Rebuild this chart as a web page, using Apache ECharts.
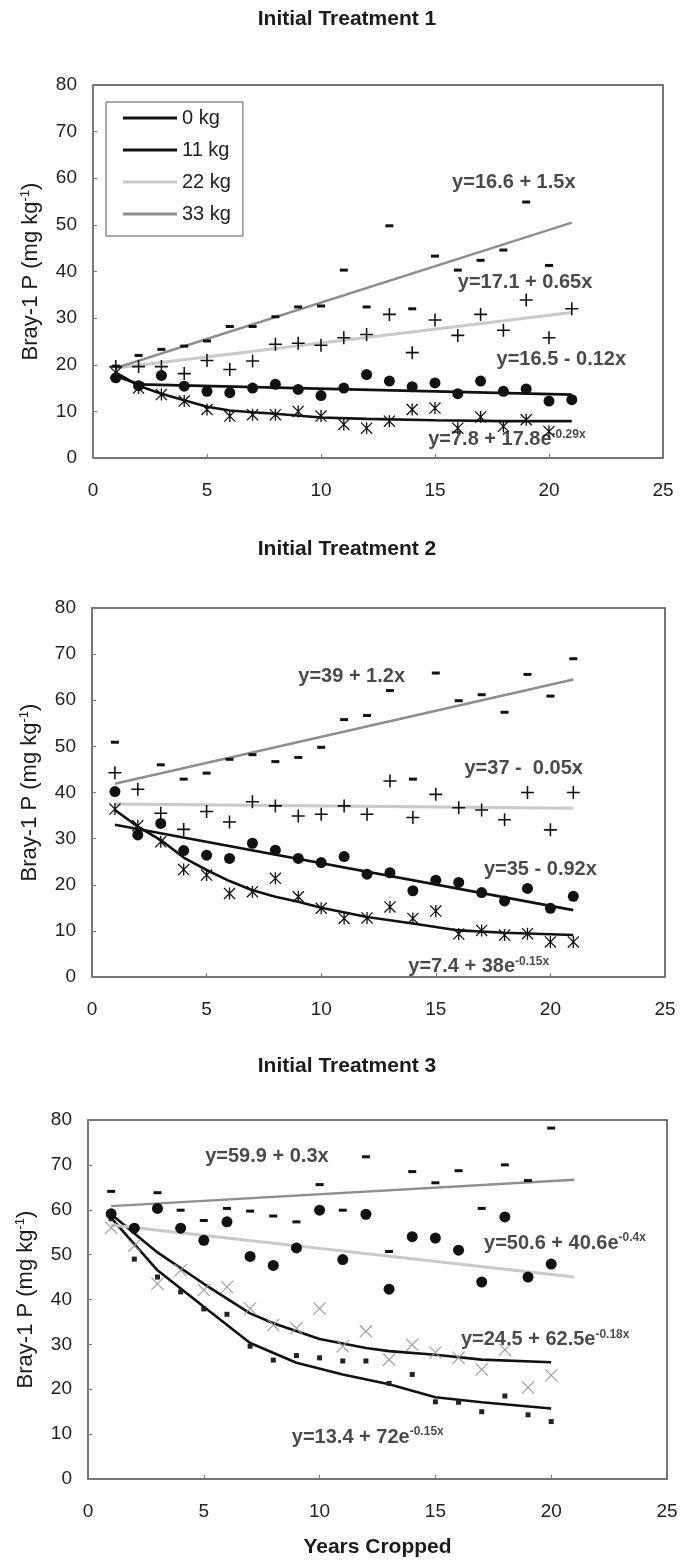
<!DOCTYPE html>
<html>
<head>
<meta charset="utf-8">
<script src="https://cdn.jsdelivr.net/npm/echarts@6/dist/echarts.min.js"></script>
<style>
  html, body { margin: 0; padding: 0; background: #fff; }
  #main { width: 683px; height: 1564px; }
</style>
</head>
<body>
<div id="main"></div>
<script>
// ---- data ----
var years = [1,2,3,4,5,6,7,8,9,10,11,12,13,14,15,16,17,18,19,20,21];
var years3 = [1,2,3,4,5,6,7,8,9,10,11,12,13,14,15,16,17,18,19,20];
var xTicks = [0, 25, 5];   // min, max, step
var yTicks = [0, 80, 10];

// Initial Treatment 1 : observations
var t1_0kg  = [18.3,15.0,13.6,12.2,10.4,9.0,9.3,9.3,10.0,9.0,7.2,6.4,7.9,10.4,10.7,6.4,8.8,6.8,8.2,5.7,null];
var t1_11kg = [17.2,15.5,17.7,15.4,14.3,14.0,15.0,15.8,14.7,13.4,15.0,17.9,16.5,15.3,16.1,13.8,16.5,14.3,14.8,12.2,12.5];
var t1_22kg = [19.6,19.6,19.6,18.1,20.9,19.0,20.8,24.4,24.6,24.2,25.8,26.5,30.8,22.6,29.6,26.3,30.8,27.4,33.9,25.8,32.0];
var t1_33kg = [19.7,22.0,23.3,24.0,25.1,28.2,28.2,30.3,32.4,32.6,40.3,32.4,49.8,32.0,43.3,40.3,42.4,44.6,54.9,41.3,null];
// Initial Treatment 1 : fitted lines
var t1_fit0_x  = [1,2,3,4,5,6,7,8,10,12,15,18,21];
var t1_fit0_y  = [18.3,15.5,13.8,12.4,11.0,10.2,9.8,9.5,8.7,8.4,8.1,7.9,7.9];
var t1_fit11_x = [1,2,21];
var t1_fit11_y = [17.6,15.8,13.6];
var t1_fit22_x = [1,21];
var t1_fit22_y = [19.3,31.2];
var t1_fit33_x = [1,21];
var t1_fit33_y = [19.3,50.5];

// Initial Treatment 2 : observations
var t2_0kg  = [36.4,32.8,29.3,23.3,22.1,18.1,18.5,21.4,17.4,14.9,12.7,12.8,15.2,12.7,14.3,9.3,10.1,9.1,9.4,7.6,7.6];
var t2_11kg = [40.2,30.8,33.3,27.4,26.4,25.7,29.0,27.5,25.7,24.8,26.1,22.3,22.6,18.7,21.0,20.5,18.3,16.5,19.2,14.9,17.5];
var t2_22kg = [44.3,40.7,35.5,32.0,35.9,33.6,38.0,37.1,34.9,35.3,37.1,35.3,42.5,34.6,39.6,36.7,36.2,34.1,40.0,31.9,40.0];
var t2_33kg = [50.9,null,46.0,42.9,44.2,47.2,48.2,46.7,47.6,49.8,55.8,56.7,62.1,42.9,65.9,59.9,61.2,57.4,65.6,60.9,69.0];
// Initial Treatment 2 : fitted lines
var t2_fit0_x  = [1,2,3,4,5,6,7,8,9,10,12,14,16,18,21];
var t2_fit0_y  = [36.2,32.6,29.7,25.9,23.2,20.8,18.8,17.4,16.3,15.0,13.0,11.6,10.1,9.6,9.1];
var t2_fit11_x = [1,21];
var t2_fit11_y = [33.0,14.5];
var t2_fit22_x = [1,21];
var t2_fit22_y = [37.5,36.6];
var t2_fit33_x = [1,21];
var t2_fit33_y = [41.9,64.5];

// Initial Treatment 3 : observations
var t3_0kg  = [58.0,49.0,45.0,41.7,37.9,36.7,29.6,26.5,27.5,27.0,26.3,26.3,21.3,23.3,17.2,17.1,15.0,18.5,14.3,12.8];
var t3_11kg = [56.0,52.0,43.5,46.5,42.1,42.8,38.0,34.3,33.6,38.0,29.6,32.9,26.6,29.9,28.2,27.0,24.4,28.8,20.4,23.1];
var t3_22kg = [59.1,55.9,60.3,55.9,53.2,57.3,49.6,47.6,51.5,59.9,48.9,59.0,42.3,54.0,53.7,51.0,43.9,58.4,45.0,47.9];
var t3_33kg = [64.1,null,63.8,59.9,57.6,60.3,59.7,58.6,57.3,65.6,59.9,71.8,50.7,68.5,66.0,68.7,60.3,70.0,66.5,78.2];
// Initial Treatment 3 : fitted lines
var t3_fit0_x  = [1,3,5,7,9,11,13,15,17,20];
var t3_fit0_y  = [58.2,46.5,38.4,30.3,25.9,23.3,21.1,18.2,17.1,15.7];
var t3_fit11_x = [1,3,5,7,8,10,12,13,15,17,20];
var t3_fit11_y = [59.0,50.5,43.5,36.9,34.7,31.2,29.2,28.5,27.7,26.6,26.0];
var t3_fit22_x = [1,21];
var t3_fit22_y = [56.6,45.0];
var t3_fit33_x = [1,21];
var t3_fit33_y = [60.8,66.7];

// equation labels: [x, y, text, superscript]
var t1_eqs = [
  [15.75, 59.1, 'y=16.6 + 1.5x', ''],
  [16.0, 37.6, 'y=17.1 + 0.65x', ''],
  [17.7, 21.1, 'y=16.5 - 0.12x', ''],
  [14.7, 3.9, 'y=7.8 + 17.8e', '-0.29x']
];
var t2_eqs = [
  [9.0, 65.2, 'y=39 + 1.2x', ''],
  [16.25, 45.3, 'y=37 -  0.05x', ''],
  [17.1, 23.3, 'y=35 - 0.92x', ''],
  [13.8, 2.2, 'y=7.4 + 38e', '-0.15x']
];
var t3_eqs = [
  [5.06, 71.8, 'y=59.9 + 0.3x', ''],
  [17.1, 52.5, 'y=50.6 + 40.6e', '-0.4x'],
  [16.1, 31.0, 'y=24.5 + 62.5e', '-0.18x'],
  [8.8, 9.3, 'y=13.4 + 72e', '-0.15x']
];

var titles = ['Initial Treatment 1', 'Initial Treatment 2', 'Initial Treatment 3'];
var rates = ['0 kg', '11 kg', '22 kg', '33 kg'];

// ---- styling ----
var FONT = 'Liberation Sans, Arial, sans-serif';
var lineColors = ['#111', '#111', '#c9c9c9', '#8e8e8e'];
var lineWidths = [2.6, 2.6, 3, 2.4];

var STAR  = 'path://M4.45,0H5.55V10H4.45Z M0,0.75L0.75,0L10,9.25L9.25,10Z M9.25,0L10,0.75L0.75,10L0,9.25Z';
var PLUS  = 'path://M4.4,0H5.6V4.4H10V5.6H5.6V10H4.4V5.6H0V4.4H4.4Z';
var CROSS = 'path://M0,0.6L0.6,0L10,9.4L9.4,10Z M9.4,0L10,0.6L0.6,10L0,9.4Z';

var grids = [
  { left: 93, top: 85, width: 570, height: 373 },
  { left: 92, top: 608, width: 573, height: 369 },
  { left: 88, top: 1120, width: 579, height: 359 }
];
var titleTops = [4, 534, 1051];

function pts(xs, ys) {
  return xs.map(function (x, i) { return [x, ys[i] == null ? '-' : ys[i]]; });
}

var series = [];

function addPanel(idx, xs, obs, markers, fits, eqs) {
  // fitted lines first so points sit on top
  fits.forEach(function (f, k) {
    series.push({
      name: rates[k],
      type: 'line',
      xAxisIndex: idx, yAxisIndex: idx,
      symbol: 'none',
      data: pts(f[0], f[1]),
      lineStyle: { color: lineColors[k], width: lineWidths[k] },
      itemStyle: { color: lineColors[k] },
      z: 2, silent: true
    });
  });
  obs.forEach(function (o, k) {
    var m = markers[k];
    series.push({
      name: rates[k] + ' obs',
      type: 'scatter',
      xAxisIndex: idx, yAxisIndex: idx,
      symbol: m.symbol, symbolSize: m.size,
      itemStyle: { color: m.color, opacity: 1 },
      data: pts(xs, o),
      z: 3, silent: true
    });
  });
  series.push({
    type: 'scatter',
    xAxisIndex: idx, yAxisIndex: idx,
    symbolSize: 0,
    silent: true,
    z: 5,
    data: eqs.map(function (e) { return { value: [e[0], e[1]], name: e[2], sup: e[3] }; }),
    label: {
      show: true,
      position: 'right',
      distance: 0,
      formatter: function (p) {
        var s = '{b|' + p.data.name + '}';
        if (p.data.sup) s += '{s|' + p.data.sup + '}';
        return s;
      },
      rich: {
        b: { fontFamily: FONT, fontSize: 20, fontWeight: 'bold', color: '#1b1b1b', lineHeight: 23 },
        s: { fontFamily: FONT, fontSize: 12, fontWeight: 'bold', color: '#1b1b1b', lineHeight: 12, verticalAlign: 'top' }
      }
    }
  });
}

var mk12 = [
  { symbol: STAR, size: 12, color: '#111' },
  { symbol: 'circle', size: 11, color: '#111' },
  { symbol: PLUS, size: 13, color: '#111' },
  { symbol: 'rect', size: [8, 3], color: '#111' }
];
var mk3 = [
  { symbol: 'rect', size: 5, color: '#222' },
  { symbol: CROSS, size: 13, color: '#9a9a9a' },
  { symbol: 'circle', size: 11, color: '#111' },
  { symbol: 'rect', size: [8, 3], color: '#111' }
];

addPanel(0, years, [t1_0kg, t1_11kg, t1_22kg, t1_33kg], mk12,
  [[t1_fit0_x, t1_fit0_y], [t1_fit11_x, t1_fit11_y], [t1_fit22_x, t1_fit22_y], [t1_fit33_x, t1_fit33_y]], t1_eqs);
addPanel(1, years, [t2_0kg, t2_11kg, t2_22kg, t2_33kg], mk12,
  [[t2_fit0_x, t2_fit0_y], [t2_fit11_x, t2_fit11_y], [t2_fit22_x, t2_fit22_y], [t2_fit33_x, t2_fit33_y]], t2_eqs);
addPanel(2, years3, [t3_0kg, t3_11kg, t3_22kg, t3_33kg], mk3,
  [[t3_fit0_x, t3_fit0_y], [t3_fit11_x, t3_fit11_y], [t3_fit22_x, t3_fit22_y], [t3_fit33_x, t3_fit33_y]], t3_eqs);

var yName = '{n|Bray-1 P (mg kg}{s|-1}{n|)}';

var option = {
  backgroundColor: '#fff',
  animation: false,
  title: titles.map(function (t, i) {
    return {
      text: t, left: 342, top: titleTops[i], textAlign: 'center',
      textStyle: { fontFamily: FONT, fontSize: 21, fontWeight: 'bold', color: '#1b1b1b' }
    };
  }),
  legend: {
    data: rates,
    orient: 'vertical',
    left: 106, top: 102,
    icon: 'rect', itemWidth: 54, itemHeight: 3, itemGap: 12,
    padding: [6, 12, 12, 17],
    borderColor: '#555', borderWidth: 1, backgroundColor: '#fff',
    selectedMode: false,
    textStyle: { fontFamily: FONT, fontSize: 20, color: '#222', lineHeight: 20 }
  },
  grid: grids.map(function (g) {
    return {
      left: g.left, top: g.top, width: g.width, height: g.height,
      show: true, borderColor: '#4a4a4a', borderWidth: 1.5, backgroundColor: '#fff',
      containLabel: false, outerBoundsMode: 'none'
    };
  }),
  xAxis: grids.map(function (g, i) {
    var ax = {
      gridIndex: i, type: 'value',
      min: xTicks[0], max: xTicks[1], interval: xTicks[2],
      axisLine: { show: false },
      axisTick: { show: true, inside: true, length: 4, lineStyle: { color: '#777' } },
      splitLine: { show: false },
      axisLabel: { fontFamily: FONT, fontSize: 19, color: '#222', margin: 23 }
    };
    if (i === 2) {
      ax.name = 'Years Cropped';
      ax.nameLocation = 'middle';
      ax.nameGap = 58;
      ax.nameTextStyle = { fontFamily: FONT, fontSize: 21, fontWeight: 'bold', color: '#1b1b1b' };
    }
    return ax;
  }),
  yAxis: grids.map(function (g, i) {
    return {
      gridIndex: i, type: 'value',
      min: yTicks[0], max: yTicks[1], interval: yTicks[2],
      axisLine: { show: false },
      axisTick: { show: true, inside: true, length: 4, lineStyle: { color: '#777' } },
      splitLine: { show: false },
      axisLabel: { fontFamily: FONT, fontSize: 19, color: '#222', margin: 16 },
      name: yName,
      nameLocation: 'middle',
      nameGap: 50,
      nameTextStyle: {
        rich: {
          n: { fontFamily: FONT, fontSize: 22, color: '#1b1b1b', lineHeight: 24 },
          s: { fontFamily: FONT, fontSize: 13, color: '#1b1b1b', lineHeight: 13, verticalAlign: 'top' }
        }
      }
    };
  }),
  series: series
};

var chart = echarts.init(document.getElementById('main'), null, { renderer: 'canvas' });
chart.setOption(option);
</script>
</body>
</html>
